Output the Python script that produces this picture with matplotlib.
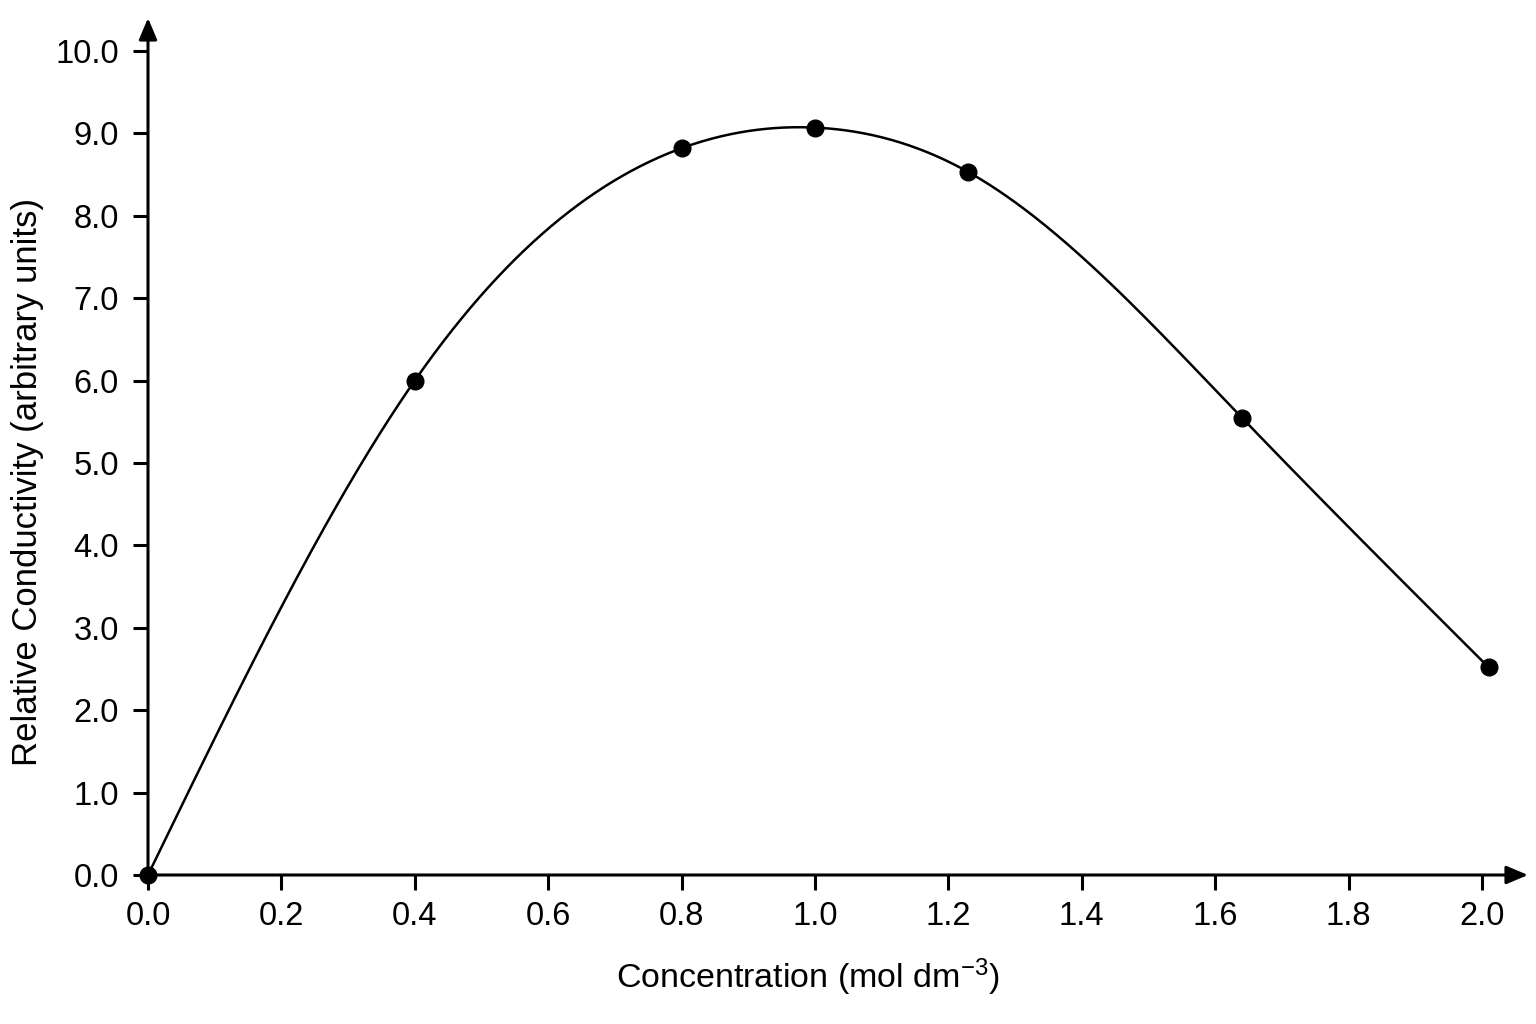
import numpy as np
import matplotlib
matplotlib.use("Agg")
import matplotlib.pyplot as plt

plt.rcParams['font.family'] = ['Liberation Sans', 'DejaVu Sans']
plt.rcParams['mathtext.fontset'] = 'custom'
plt.rcParams['mathtext.rm'] = 'Liberation Sans'
plt.rcParams['mathtext.it'] = 'Liberation Sans:italic'

concentration = [0.0, 0.4, 0.8, 1.0, 1.23, 1.64, 2.01]
conductivity = [0.0, 6.0, 8.82, 9.07, 8.53, 5.55, 2.52]
x_ticks = [0.0, 0.2, 0.4, 0.6, 0.8, 1.0, 1.2, 1.4, 1.6, 1.8, 2.0]
y_ticks = [0.0, 1.0, 2.0, 3.0, 4.0, 5.0, 6.0, 7.0, 8.0, 9.0, 10.0]


def natural_spline(x, y, xs):
    x = np.asarray(x, float); y = np.asarray(y, float)
    n = len(x)
    h = np.diff(x)
    A = np.zeros((n, n)); b = np.zeros(n)
    A[0, 0] = 1; A[-1, -1] = 1
    for i in range(1, n - 1):
        A[i, i - 1] = h[i - 1]
        A[i, i] = 2 * (h[i - 1] + h[i])
        A[i, i + 1] = h[i]
        b[i] = 6 * ((y[i + 1] - y[i]) / h[i] - (y[i] - y[i - 1]) / h[i - 1])
    M = np.linalg.solve(A, b)
    out = np.empty_like(xs)
    for k, xv in enumerate(xs):
        i = min(max(np.searchsorted(x, xv) - 1, 0), n - 2)
        t1 = x[i + 1] - xv; t0 = xv - x[i]
        out[k] = (M[i] * t1 ** 3 + M[i + 1] * t0 ** 3) / (6 * h[i]) \
            + (y[i] / h[i] - M[i] * h[i] / 6) * t1 \
            + (y[i + 1] / h[i] - M[i + 1] * h[i] / 6) * t0
    return out


W, H = 1536, 1024
fig = plt.figure(figsize=(W / 100, H / 100), dpi=100)
left, right, bottom, top = 148, 1528, 875, 18
ax = fig.add_axes([left / W, 1 - bottom / H, (right - left) / W, (bottom - top) / H])
ax.set_xlim(0, 2.069)
ax.set_ylim(0, 10.4)

xs = np.linspace(concentration[0], concentration[-1], 600)
ax.plot(xs, natural_spline(concentration, conductivity, xs), color='black', lw=1.8, zorder=3)
ax.plot(concentration, conductivity, 'o', color='black', ms=12, zorder=4, clip_on=False)

for s in ['top', 'right', 'left', 'bottom']:
    ax.spines[s].set_visible(False)

arrow_kw = dict(arrowstyle='-|>,head_length=0.9,head_width=0.38', color='black',
                lw=2.2, shrinkA=0, shrinkB=0, mutation_scale=14.5)
ax.annotate('', xy=(1, 0), xytext=(0, 0), xycoords='axes fraction', arrowprops=arrow_kw)
ax.annotate('', xy=(0, 1), xytext=(0, 0), xycoords='axes fraction', arrowprops=arrow_kw)

ax.set_xticks(x_ticks)
ax.set_xticklabels([f"{v:.1f}" for v in x_ticks])
ax.set_yticks(y_ticks)
ax.set_yticklabels([f"{v:.1f}" for v in y_ticks])
ax.tick_params(axis='both', direction='out', length=11, width=2.2, labelsize=23.5, colors='black')
ax.tick_params(axis='x', pad=8)
ax.tick_params(axis='y', pad=10)

fig.text(808 / W, 1 - 977 / H, 'Concentration (mol dm$^{-3}$)', ha='center', va='center', fontsize=24.5)
fig.text(28 / W, 1 - 482 / H, 'Relative Conductivity (arbitrary units)', ha='center', va='center',
         rotation=90, fontsize=25)

fig.savefig('out.png', dpi=100, facecolor='white')
